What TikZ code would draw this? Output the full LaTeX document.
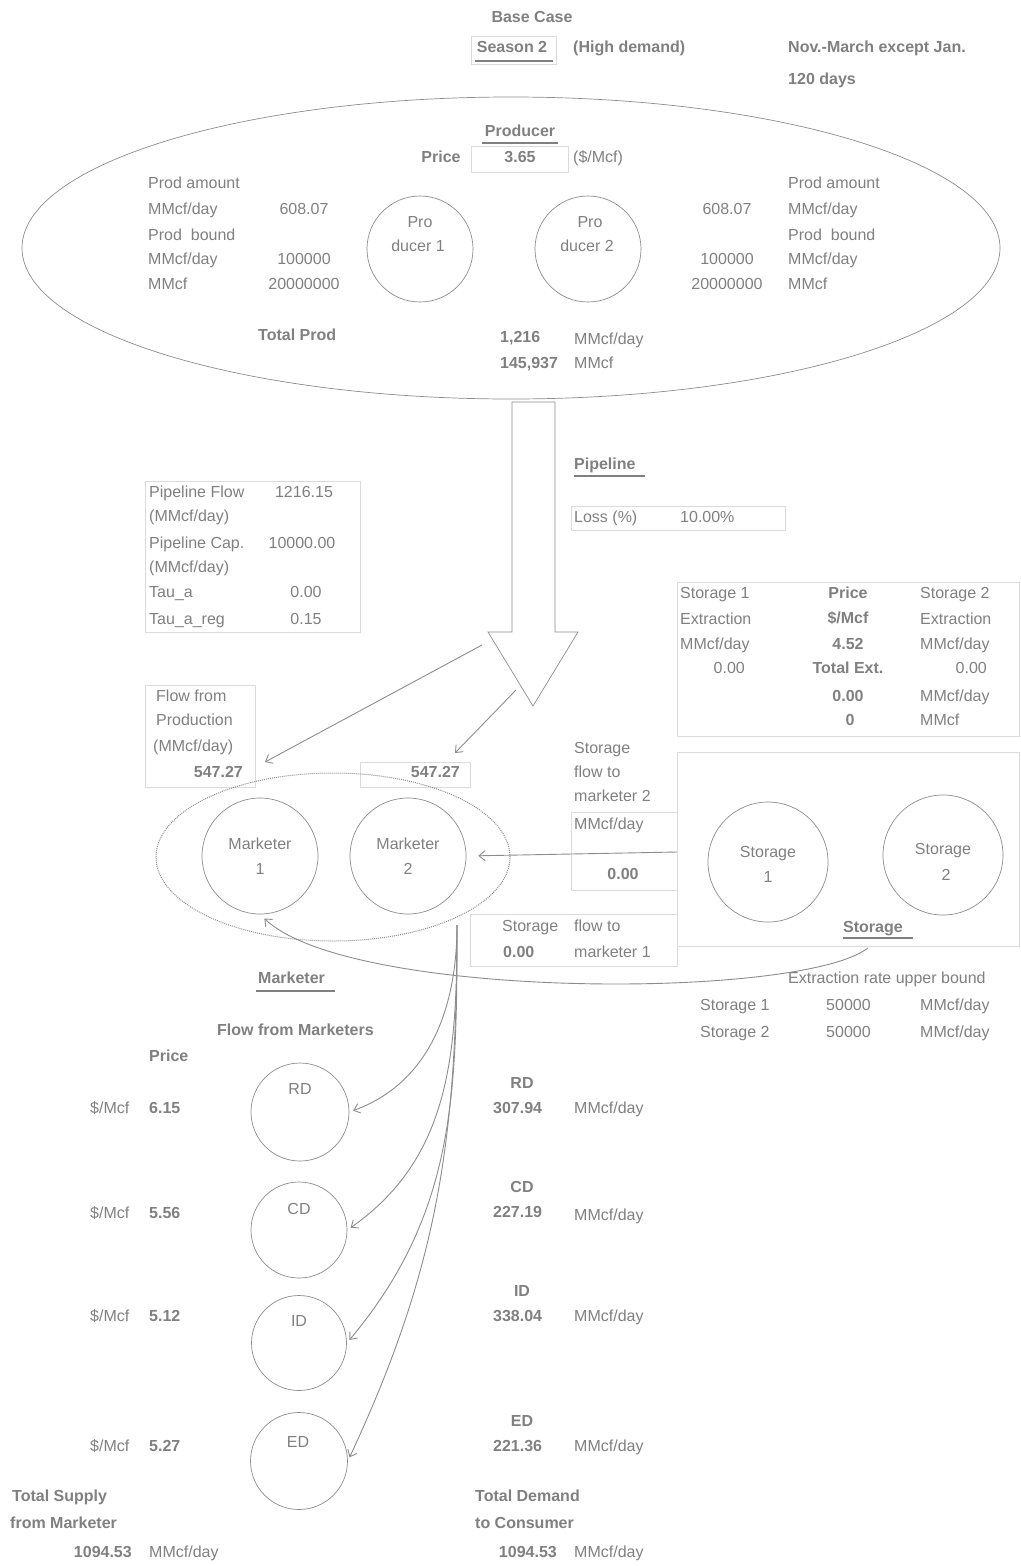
\documentclass[tikz,border=0pt]{standalone}
\usepackage{fontspec}
\setmainfont{Liberation Sans}
\usetikzlibrary{arrows.meta,shapes.geometric}
\definecolor{txtgray}{gray}{0.5}
\definecolor{linegray}{gray}{0.55}
\definecolor{boxgray}{gray}{0.86}

\begin{document}
\begin{tikzpicture}[x=1pt,y=-1pt]
        \tikzstyle{every node} = [rectangle, inner sep=0pt, text=txtgray, font=\fontsize{16}{19}\selectfont, text height=11.5pt, text depth=3.5pt]
        \tikzstyle{lbl} = [anchor=west]
        \tikzstyle{bold} = [font=\fontsize{16}{19}\selectfont\bfseries]
        \tikzstyle{hub} = [circle, draw=linegray, line width=0.7pt]
        \tikzstyle{cell} = [draw=boxgray, line width=0.8pt]
        \tikzstyle{ul} = [draw=txtgray, line width=2pt]
        \tikzstyle{flow} = [draw=linegray, line width=0.9pt, -{Straight Barb[length=6pt,width=10pt]}]
        \useasboundingbox (0,0) rectangle (1020,1566);

        % header
        \node[bold] (base) at (532,18) {Base Case};
        \draw[cell] (471,36) rectangle (556,64);
        \node[bold] (season) at (512,48) {Season 2};
        \draw[ul] (475,61) -- (553,61);
        \node[bold,lbl] (high) at (573,48) {(High demand)};
        \node[bold,lbl] (months) at (788,48) {Nov.-March except Jan.};
        \node[bold,lbl] (days) at (788,80) {120 days};

        % producer
        \node[ellipse, draw=linegray, line width=0.7pt, minimum width=978pt, minimum height=302pt] (prod) at (511,248) {};
        \node[bold] (prodname) at (520,132) {Producer};
        \draw[ul] (482,143) -- (558,143);
        \node[bold] (pricelbl) at (441,158) {Price};
        \draw[cell] (471,146) rectangle (568,172);
        \node[bold] (priceval) at (520,158) {3.65};
        \node[lbl] (priceunit) at (573,158) {(\$/Mcf)};

        \node[lbl] (la) at (148,184) {Prod amount};
        \node[lbl] (lb) at (148,210) {MMcf/day};
        \node[lbl] (lc) at (148,236) {Prod\ \ bound};
        \node[lbl] (ld) at (148,260) {MMcf/day};
        \node[lbl] (le) at (148,285) {MMcf};
        \node (lva) at (304,210) {608.07};
        \node (lvb) at (304,260) {100000};
        \node (lvc) at (304,285) {20000000};

        \node[lbl] (ra) at (788,184) {Prod amount};
        \node[lbl] (rb) at (788,210) {MMcf/day};
        \node[lbl] (rc) at (788,236) {Prod\ \ bound};
        \node[lbl] (rd0) at (788,260) {MMcf/day};
        \node[lbl] (re) at (788,285) {MMcf};
        \node (rva) at (727,210) {608.07};
        \node (rvb) at (727,260) {100000};
        \node (rvc) at (727,285) {20000000};

        \node[hub, minimum size=106pt] (p1) at (420,249) {};
        \node (p1a) at (420,223) {Pro};
        \node (p1b) at (418,247) {ducer 1};
        \node[hub, minimum size=106pt] (p2) at (588,249) {};
        \node (p2a) at (590,223) {Pro};
        \node (p2b) at (587,247) {ducer 2};

        \node[bold,lbl] (totprod) at (258,336) {Total Prod};
        \node[bold,lbl] (totday) at (500,338) {1,216};
        \node[lbl] (totdayu) at (574,340) {MMcf/day};
        \node[bold,lbl] (totall) at (500,364) {145,937};
        \node[lbl] (totallu) at (574,364) {MMcf};

        % pipeline
        \draw[draw=linegray, line width=0.7pt] (512,402) -- (555,402) -- (555,632) -- (578,632) -- (533,706) -- (488,632) -- (512,632) -- cycle;
        \node[bold,lbl] (pipe) at (574,465) {Pipeline};
        \draw[ul] (574,476) -- (645,476);
        \draw[cell] (571,506) rectangle (785,530);
        \node[lbl] (loss) at (574,518) {Loss (\%)};
        \node[lbl] (lossval) at (680,518) {10.00\%};

        \draw[cell] (145,481) rectangle (360,632);
        \node[lbl] (pfa) at (149,493) {Pipeline Flow};
        \node[lbl] (pfb) at (149,517) {(MMcf/day)};
        \node[lbl] (pca) at (149,544) {Pipeline Cap.};
        \node[lbl] (pcb) at (149,568) {(MMcf/day)};
        \node[lbl] (ta) at (149,593) {Tau\_a};
        \node[lbl] (tr) at (149,620) {Tau\_a\_reg};
        \node (pfv) at (304,493) {1216.15};
        \node (pcv) at (302,544) {10000.00};
        \node (tav) at (306,593) {0.00};
        \node (trv) at (306,620) {0.15};

        % storage data
        \draw[cell] (677,582) rectangle (1019.5,736);
        \node[lbl] (s1a) at (680,594) {Storage 1};
        \node[lbl] (s1b) at (680,620) {Extraction};
        \node[lbl] (s1c) at (680,645) {MMcf/day};
        \node[anchor=east] (s1v) at (745,669) {0.00};
        \node[bold] (spa) at (848,594) {Price};
        \node[bold] (spb) at (848,619) {\$/Mcf};
        \node[bold] (spv) at (848,645) {4.52};
        \node[bold] (sta) at (848,669) {Total Ext.};
        \node[bold] (stb) at (848,697) {0.00};
        \node[bold] (stc) at (850,721) {0};
        \node[lbl] (s2a) at (920,594) {Storage 2};
        \node[lbl] (s2b) at (920,620) {Extraction};
        \node[lbl] (s2c) at (920,645) {MMcf/day};
        \node[anchor=east] (s2v) at (987,669) {0.00};
        \node[lbl] (stbu) at (920,697) {MMcf/day};
        \node[lbl] (stcu) at (920,721) {MMcf};

        % flow from production
        \draw[cell] (145,685) rectangle (255,787);
        \node[lbl] (ffa) at (156,697) {Flow from};
        \node[lbl] (ffb) at (156,721) {Production};
        \node[lbl] (ffc) at (153,747) {(MMcf/day)};
        \node[bold,anchor=east] (ff1) at (243,773) {547.27};
        \draw[cell] (360,762) rectangle (470,787);
        \node[bold,anchor=east] (ff2) at (460,773) {547.27};

        % marketers
        \node[ellipse, draw=linegray, densely dotted, line width=1pt, minimum width=354pt, minimum height=168pt] (mkt) at (333,857) {};
        \node[hub, minimum size=116pt] (mk1) at (260,856) {};
        \node (mk1a) at (260,845) {Marketer};
        \node (mk1b) at (260,870) {1};
        \node[hub, minimum size=116pt] (mk2) at (408,856) {};
        \node (mk2a) at (408,845) {Marketer};
        \node (mk2b) at (408,870) {2};
        \node[bold,lbl] (mktname) at (258,979) {Marketer};
        \draw[ul] (256,991) -- (335,991);

        % storage
        \draw[cell] (677,752) rectangle (1019.5,946);
        \node[hub, minimum size=120pt] (st1) at (768,862) {};
        \node (st1a) at (768,853) {Storage};
        \node (st1b) at (768,878) {1};
        \node[hub, minimum size=120pt] (st2) at (943,855) {};
        \node (st2a) at (943,850) {Storage};
        \node (st2b) at (946,876) {2};
        \node[bold,lbl] (stname) at (843,928) {Storage};
        \draw[ul] (843,938) -- (913,938);

        \node[lbl] (sfa) at (574,749) {Storage};
        \node[lbl] (sfb) at (574,773) {flow to};
        \node[lbl] (sfc) at (574,797) {marketer 2};
        \draw[cell] (571,812) rectangle (677,890);
        \node[lbl] (sfu) at (574,825) {MMcf/day};
        \node[bold] (sfv) at (623,875) {0.00};
        \draw[cell] (470,914) rectangle (677,966);
        \node[lbl] (sga) at (502,927) {Storage};
        \node[lbl] (sgb) at (574,927) {flow to};
        \node[bold,lbl] (sgv) at (503,953) {0.00};
        \node[lbl] (sgc) at (574,953) {marketer 1};

        \node[lbl] (exr) at (788,979) {Extraction rate upper bound};
        \node[lbl] (ex1) at (700,1006) {Storage 1};
        \node[lbl] (ex1v) at (826,1006) {50000};
        \node[lbl] (ex1u) at (920,1006) {MMcf/day};
        \node[lbl] (ex2) at (700,1033) {Storage 2};
        \node[lbl] (ex2v) at (826,1033) {50000};
        \node[lbl] (ex2u) at (920,1033) {MMcf/day};

        % consumers
        \node[bold,lbl] (fm) at (217,1031) {Flow from Marketers};
        \node[bold,lbl] (cprice) at (149,1057) {Price};

        \node[hub, minimum size=98pt] (rd) at (300,1112) {};
        \node (rdin) at (300,1090) {RD};
        \node[lbl] (rdu) at (90,1109) {\$/Mcf};
        \node[bold,lbl] (rdp) at (149,1109) {6.15};
        \node[bold] (rdn) at (522,1084) {RD};
        \node[bold,lbl] (rdv) at (493,1109) {307.94};
        \node[lbl] (rdq) at (574,1109) {MMcf/day};

        \node[hub, minimum size=96pt] (cd) at (299,1230) {};
        \node (cdin) at (299,1210) {CD};
        \node[lbl] (cdu) at (90,1214) {\$/Mcf};
        \node[bold,lbl] (cdp) at (149,1214) {5.56};
        \node[bold] (cdn) at (522,1188) {CD};
        \node[bold,lbl] (cdv) at (493,1213) {227.19};
        \node[lbl] (cdq) at (574,1216) {MMcf/day};

        \node[hub, minimum size=95pt] (id) at (299,1343) {};
        \node (idin) at (299,1322) {ID};
        \node[lbl] (idu) at (90,1317) {\$/Mcf};
        \node[bold,lbl] (idp) at (149,1317) {5.12};
        \node[bold] (idn) at (522,1292) {ID};
        \node[bold,lbl] (idv) at (493,1317) {338.04};
        \node[lbl] (idq) at (574,1317) {MMcf/day};

        \node[hub, minimum size=97pt] (ed) at (299,1461) {};
        \node (edin) at (298,1443) {ED};
        \node[lbl] (edu) at (90,1447) {\$/Mcf};
        \node[bold,lbl] (edp) at (149,1447) {5.27};
        \node[bold] (edn) at (522,1422) {ED};
        \node[bold,lbl] (edv) at (493,1447) {221.36};
        \node[lbl] (edq) at (574,1447) {MMcf/day};

        % totals
        \node[bold,lbl] (tsa) at (12,1497) {Total Supply};
        \node[bold,lbl] (tsb) at (10,1524) {from Marketer};
        \node[bold,anchor=east] (tsv) at (132,1553) {1094.53};
        \node[lbl] (tsu) at (149,1553) {MMcf/day};
        \node[bold,lbl] (tda) at (475,1497) {Total Demand};
        \node[bold,lbl] (tdb) at (475,1524) {to Consumer};
        \node[bold,anchor=east] (tdv) at (557,1553) {1094.53};
        \node[lbl] (tdu) at (574,1553) {MMcf/day};

        % connectors
        \coordinate (pa) at (482,645);
        \coordinate (pb) at (516,690);
        \coordinate (fa) at (265,762);
        \coordinate (fb) at (455,753);
        \coordinate (sb) at (677,852);
        \coordinate (sc) at (868,948);
        \coordinate (mo) at (457,925);
        \draw[flow] (pa) -- (fa);
        \draw[flow] (pb) -- (fb);
        \draw[flow, shorten >=12pt] (sb) -- (mk2.east);
        \draw[flow, shorten >=6pt] (sc) .. controls (800,1000) and (350,1000) .. (mk1.south);
        \foreach \to/\a in {rd/20, cd/35, id/50, ed/65}
            \draw[flow, shorten >=4pt] (mo) to[out=-90, in=\a] (\to.east);
\end{tikzpicture}
\end{document}
